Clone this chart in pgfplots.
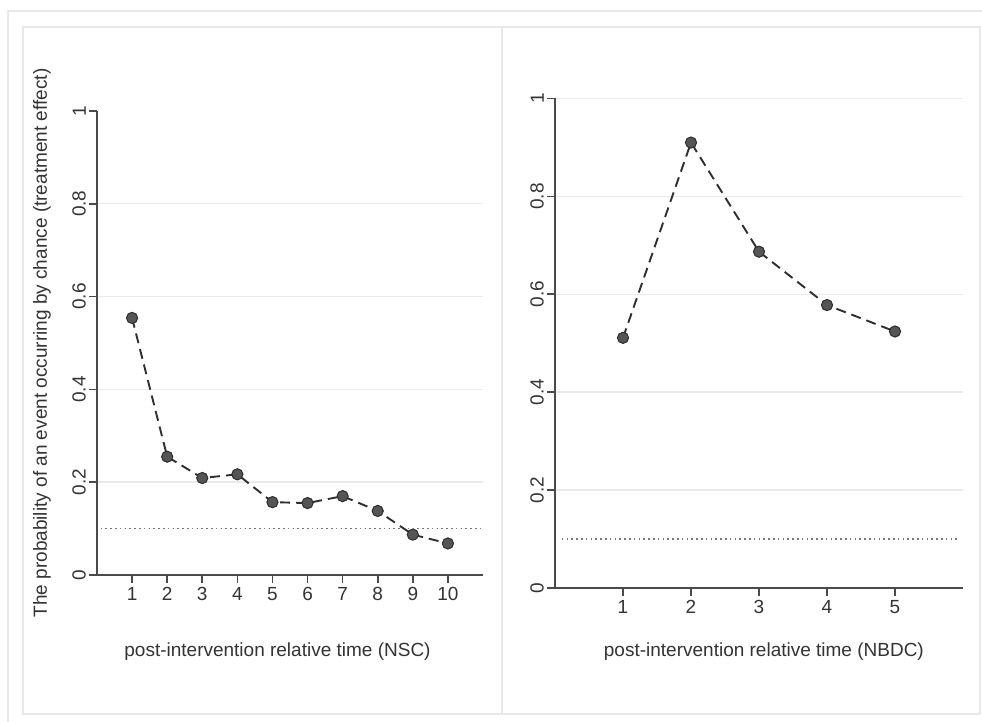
\documentclass[border=0pt]{standalone}
\usepackage{fontspec}
\setmainfont{Liberation Sans}
\usepackage{pgfplots}
\pgfplotsset{compat=1.18}

\definecolor{axisgray}{HTML}{4A4A4A}
\definecolor{gridgray}{HTML}{EAEAEA}
\definecolor{framegray}{HTML}{E8E8E8}
\definecolor{linegray}{HTML}{2E2E2E}
\definecolor{markgray}{HTML}{555555}
\definecolor{dotgray}{HTML}{777777}
\definecolor{txtgray}{HTML}{333333}

\pgfplotsset{
  panel/.style={
    scale only axis,
    anchor=south west,
    ymin=0, ymax=1,
    axis x line*=bottom, axis y line*=left,
    axis line style={draw=axisgray, line width=1.6pt, -},
    tick align=outside,
    major tick length=8pt,
    tick style={draw=axisgray, line width=1.6pt},
    ymajorgrids,
    grid style={draw=gridgray, line width=1.4pt},
    /pgf/number format/assume math mode=true,
    tick label style={font=\fontsize{19}{22}\selectfont, text=txtgray},
    label style={font=\fontsize{19}{22}\selectfont, text=txtgray},
    yticklabel style={rotate=90, anchor=south, inner sep=3pt},
    xticklabel style={inner sep=4pt},
    clip=false,
  },
  series/.style={
    draw=linegray, line width=1.9pt, dash pattern=on 10pt off 6pt,
    mark=*, mark size=5.6pt,
    mark options={solid, fill=markgray, draw=linegray, line width=1pt},
  },
  chance/.style={
    draw=dotgray, line width=1.6pt, dash pattern=on 1.6pt off 3.2pt, mark=none,
  },
}

\begin{document}
\begin{tikzpicture}[x=1pt, y=1pt]
\path[use as bounding box] (0pt,0pt) rectangle (982pt,722pt);

% frames
\draw[framegray, line width=2pt] (8pt,0pt) -- (8pt,711pt) -- (982pt,711pt);
\draw[framegray, line width=2pt] (23pt,8pt) rectangle (980pt,695pt);
\draw[framegray, line width=2pt] (502pt,8pt) -- (502pt,695pt);

% left panel (NSC)
\begin{axis}[panel,
  at={(97pt,147pt)}, width=386pt, height=464pt,
  xmin=0, xmax=11,
  xtick={1,2,3,4,5,6,7,8,9,10},
  ytick={0,0.2,0.4,0.6,0.8},
  extra y ticks={1}, extra y tick style={grid=none},
  yticklabels={0,0.2,0.4,0.6,0.8},
  extra y tick labels={1},
  xlabel={post-intervention relative time (NSC)},
  xlabel style={at={(axis description cs:0.4676,0)}, anchor=center, yshift=-77pt},
  ylabel={The probability of an event occurring by chance (treatment effect)},
  ylabel style={at={(axis description cs:-0.1425,0.5)}, anchor=center},
]
\addplot[chance] coordinates {(0.1,0.1) (11,0.1)};
\addplot[series] coordinates {
  (1,0.554) (2,0.255) (3,0.209) (4,0.217) (5,0.157)
  (6,0.155) (7,0.170) (8,0.138) (9,0.087) (10,0.068)};
\end{axis}

% right panel (NBDC)
\begin{axis}[panel,
  at={(555pt,134pt)}, width=408pt, height=489.5pt,
  xmin=0, xmax=6,
  xtick={1,2,3,4,5},
  ytick={0,0.2,0.4,0.6,0.8,1},
  yticklabels={0,0.2,0.4,0.6,0.8,1},
  xlabel={post-intervention relative time (NBDC)},
  xlabel style={at={(axis description cs:0.512,0)}, anchor=center, yshift=-64pt},
]
\addplot[chance] coordinates {(0.1,0.1) (5.95,0.1)};
\addplot[series] coordinates {
  (1,0.511) (2,0.910) (3,0.687) (4,0.578) (5,0.524)};
\end{axis}
\end{tikzpicture}
\end{document}
